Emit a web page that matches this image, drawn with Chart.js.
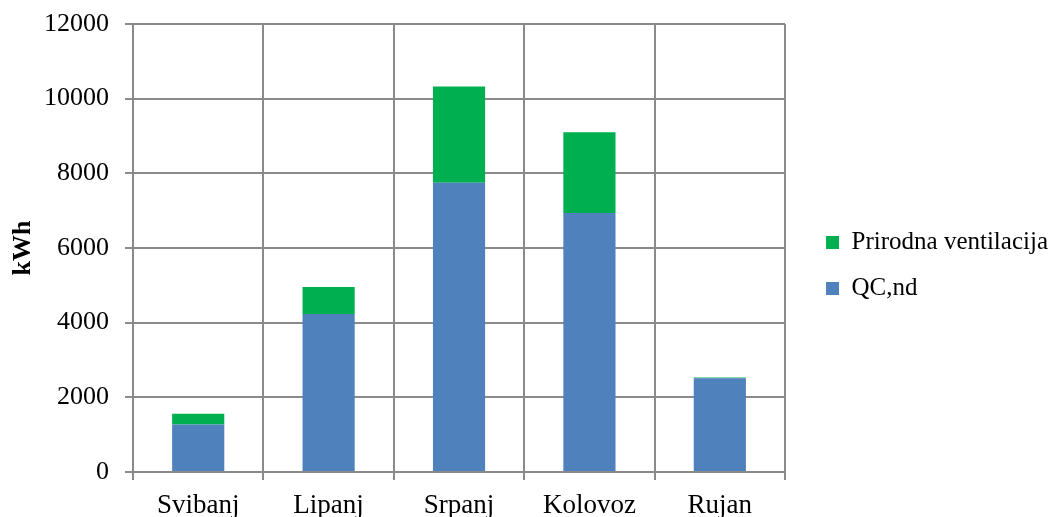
<!DOCTYPE html>
<html>
<head>
<meta charset="utf-8">
<script src="https://cdn.jsdelivr.net/npm/chart.js@4.4.0/dist/chart.umd.min.js"></script>
<style>
    html, body { margin: 0; padding: 0; background: #fff; }
    #wrap { width: 1061px; height: 517px; }
</style>
</head>
<body>
<div id="wrap"><canvas id="chart" width="1061" height="517"></canvas></div>
<script>
'use strict';

// data
const months = ['Svibanj', 'Lipanj', 'Srpanj', 'Kolovoz', 'Rujan'];
const qcNd = [1270, 4230, 7745, 6940, 2510];
const prirodnaVentilacija = [290, 725, 2580, 2160, 20];
const yTicks = [0, 2000, 4000, 6000, 8000, 10000, 12000];

(function(){

    const serif = '"Liberation Serif", "Times New Roman", serif';
    const gridColor = '#8a8a8a';

    // move the legend a bit right and up
    const legendShift = {
        id: 'legendShift',
        afterLayout: function(chart) {
            let lg = chart.legend;
            if(lg) {
                lg.left += 20;
                lg.right += 20;
                lg.top -= 5;
                lg.bottom -= 5;
            }
        }
    };

    let ctx = document.getElementById('chart').getContext('2d');

    new Chart(ctx, {
        type: 'bar',
        data: {
            labels: months,
            datasets: [
                {
                    label: 'QC,nd',
                    data: qcNd,
                    backgroundColor: '#4F81BD',
                    barPercentage: 0.4,
                    categoryPercentage: 1,
                },
                {
                    label: 'Prirodna ventilacija',
                    data: prirodnaVentilacija,
                    backgroundColor: '#00B050',
                    barPercentage: 0.4,
                    categoryPercentage: 1,
                },
            ],
        },
        options: {
            responsive: false,
            animation: false,
            layout: {
                padding: { top: 24, bottom: 0, left: 0, right: 23 },
            },
            plugins: {
                tooltip: { enabled: false },
                legend: {
                    position: 'right',
                    reverse: true,
                    labels: {
                        boxWidth: 13,
                        boxHeight: 13,
                        padding: 21,
                        color: '#000',
                        font: { family: serif, size: 25 },
                    },
                },
            },
            scales: {
                x: {
                    stacked: true,
                    afterFit: function(scale) { scale.height = 45; },
                    grid: {
                        color: gridColor,
                        lineWidth: 2,
                        tickLength: 8,
                        offset: true,
                    },
                    border: { color: gridColor, width: 2 },
                    ticks: {
                        color: '#000',
                        padding: 10,
                        font: { family: serif, size: 27 },
                    },
                },
                y: {
                    stacked: true,
                    min: 0,
                    max: 12000,
                    afterFit: function(scale) {
                        scale.width = 133;
                        scale.paddingTop = 0;
                        scale.paddingBottom = 0;
                    },
                    afterBuildTicks: function(scale) {
                        scale.ticks = yTicks.map(function(v) { return { value: v }; });
                    },
                    grid: {
                        color: gridColor,
                        lineWidth: 2,
                        tickLength: 8,
                    },
                    border: { color: gridColor, width: 2 },
                    title: {
                        display: true,
                        text: 'kWh',
                        color: '#000',
                        font: { family: serif, size: 26, weight: 'bold' },
                        padding: { top: 8, bottom: 0 },
                    },
                    ticks: {
                        color: '#000',
                        padding: 16,
                        font: { family: serif, size: 26 },
                        callback: function(v) { return String(v); },
                    },
                },
            },
        },
        plugins: [legendShift],
    });
})();
</script>
</body>
</html>
